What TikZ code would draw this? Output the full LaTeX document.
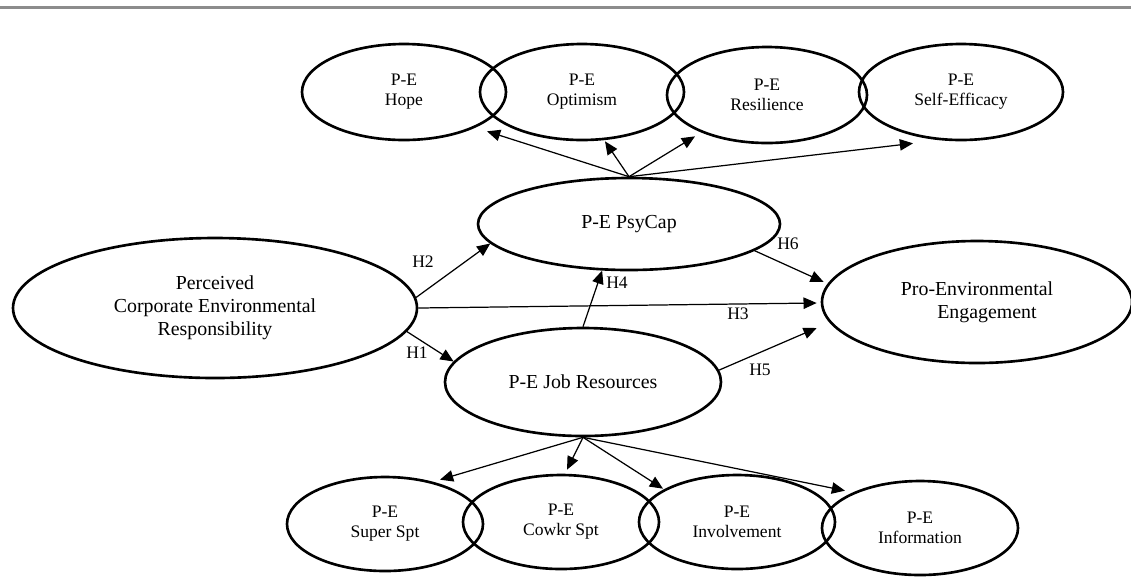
\documentclass[tikz,border=0pt]{standalone}
\usepackage{fontspec}
\setmainfont{Liberation Serif}
\usetikzlibrary{shapes.geometric,arrows.meta,calc}
\newlength\pxu
\setlength\pxu{0.02cm}
\begin{document}
\begin{tikzpicture}[x=0.02cm,y=-0.02cm,
  lat/.style={ellipse,draw,line width=1.5pt,inner sep=0pt,align=center,font=\fontsize{11.3}{13.2}\selectfont},
  ind/.style={ellipse,draw,line width=1.5pt,inner sep=0pt,align=center,minimum width=204\pxu,minimum height=96\pxu,font=\fontsize{10}{11.3}\selectfont},
  indb/.style={ind,minimum width=196\pxu,minimum height=94\pxu},
  arr/.style={-{Triangle[length=7.5pt,width=6.5pt]},line width=0.7pt},
  hl/.style={font=\fontsize{10}{12}\selectfont,inner sep=0pt}]
\useasboundingbox (0,0) rectangle (1131,576);
\draw[gray!90,line width=1.2pt] (0,7.5) -- (1131,7.5);
% top indicators
\node[ind] (hope) at (404,92) {P-E\\Hope};
\node[ind] (opt) at (582,92) {P-E\\Optimism};
\node[ind,minimum width=200\pxu] (res) at (767,95) {P-E\\Resilience};
\node[ind] (se) at (961,92) {P-E\\Self-Efficacy};
% latent constructs
\node[lat,minimum width=302\pxu,minimum height=92\pxu] (psy) at (629,224) {P-E PsyCap};
\node[lat,minimum width=404\pxu,minimum height=140\pxu] (cer) at (215,308) {Perceived\\Corporate Environmental\\Responsibility};
\node[lat,minimum width=310\pxu,minimum height=122\pxu] (pro) at (977,302) {Pro-Environmental\\\hspace*{1em}Engagement};
\node[lat,minimum width=276\pxu,minimum height=108\pxu] (jr) at (583,382) {P-E Job Resources};
% bottom indicators
\node[indb] (sup) at (385,524) {P-E\\Super Spt};
\node[indb] (cow) at (561,522) {P-E\\Cowkr Spt};
\node[indb] (inv) at (737,522) {P-E\\Involvement};
\node[indb] (inf) at (920,528) {P-E\\Information};
% PsyCap indicators
\draw[arr] (psy.north) -- ($(hope.south)+(83,-10)$);
\draw[arr] (psy.north) -- ($(opt.south)+(23,0)$);
\draw[arr] (psy.north) -- ($(res.south)+(-72,-8)$);
\draw[arr] (psy.north) -- ($(se.south)+(-48,2)$);
% Job resources indicators
\draw[arr] (jr.south) -- ($(sup.north)+(55,4)$);
\draw[arr] (jr.south) -- ($(cow.north)+(6,-4)$);
\draw[arr] (jr.south) -- ($(inv.north)+(-74,15)$);
\draw[arr] (jr.south) -- ($(inf.north)+(-75,11)$);
% structural paths
\draw[arr] (cer.3) -- (psy.188);
\draw[arr] (cer.-7) -- (jr.171);
\draw[arr] (cer.east) -- ($(pro.west)+(-4,1)$);
\draw[arr] (jr.north) -- (psy.240);
\draw[arr] (jr.5) -- ($(pro.west)+(-4,26)$);
\draw[arr] (psy.-12) -- ($(pro.west)+(3,-20)$);
% labels
\node[hl] (h1) at (417,353) {H1};
\node[hl] (h2) at (423,262) {H2};
\node[hl] (h3) at (738,314) {H3};
\node[hl] (h4) at (617,283) {H4};
\node[hl] (h5) at (760,370) {H5};
\node[hl] (h6) at (788,244) {H6};
\end{tikzpicture}
\end{document}
